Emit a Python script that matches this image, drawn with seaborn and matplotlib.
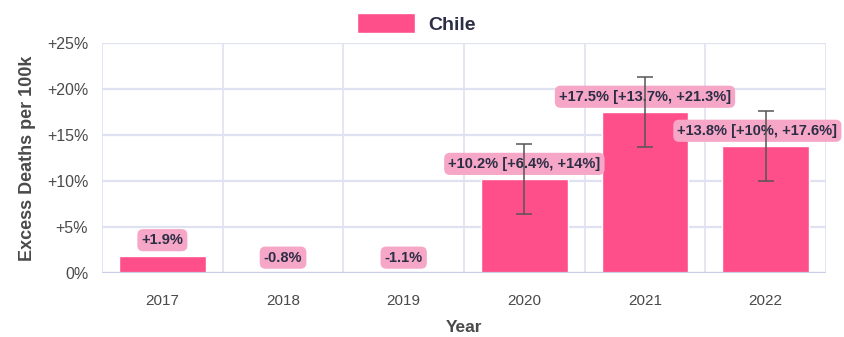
import numpy as np
import pandas as pd
import matplotlib.pyplot as plt
import seaborn as sns

# data
years = ["2017", "2018", "2019", "2020", "2021", "2022"]
excess = [1.9, -0.8, -1.1, 10.2, 17.5, 13.8]
ci_low = [np.nan, np.nan, np.nan, 6.4, 13.7, 10.0]
ci_high = [np.nan, np.nan, np.nan, 14.0, 21.3, 17.6]
country = "Chile"

bar_col = "#ff4f8b"
lab_bg = "#f6a6c6"
grid_col = "#dfe2f1"
txt_col = "#2b2e45"

df = pd.DataFrame({"Year": years, "Excess": excess, "Country": country})

sns.set_style("white")
plt.rcParams["font.family"] = ["Liberation Sans", "DejaVu Sans"]

fig = plt.figure(figsize=(8.44, 3.37), dpi=100)
ax = fig.add_axes([0.1209, 0.19, 0.8578, 0.682])

sns.barplot(data=df, x="Year", y="Excess", hue="Country", palette=[bar_col],
            saturation=1, width=0.72, dodge=False, ax=ax, zorder=3)

# error bars for years that have an interval
x = np.arange(len(years))
vals = np.array(excess)
lo = np.array(ci_low)
hi = np.array(ci_high)
mask = ~np.isnan(lo)
ax.errorbar(x[mask], vals[mask], yerr=[vals[mask] - lo[mask], hi[mask] - vals[mask]],
            fmt="none", ecolor="#555555", elinewidth=1.1, capsize=6, capthick=1.1, zorder=6)

# value labels (last one nudged left so it stays inside the figure)
for i, v in enumerate(excess):
    s = f"{v:+.1f}%"
    if mask[i]:
        s += f" [{lo[i]:+g}%, {hi[i]:+g}%]"
    dx = -6 if i == len(years) - 1 else 0
    ax.annotate(s, (i, max(v, 0)), xytext=(dx, 6), textcoords="offset points",
                ha="center", va="bottom", fontsize=10.5, fontweight="bold", color=txt_col,
                bbox=dict(boxstyle="round,pad=0.28,rounding_size=0.4", fc=lab_bg, ec="none"),
                zorder=5, annotation_clip=False, clip_on=False)

ax.set_ylim(0, 25)
ax.set_xlim(-0.5, len(years) - 0.5)
ax.set_yticks([0, 5, 10, 15, 20, 25])
ax.set_yticklabels(["0%", "+5%", "+10%", "+15%", "+20%", "+25%"])
ax.set_xticks(np.arange(-0.5, len(years)), minor=True)
ax.grid(axis="y", color=grid_col, lw=1.6, zorder=0)
ax.grid(axis="x", which="minor", color=grid_col, lw=1.2, zorder=0)
ax.tick_params(axis="x", which="major", length=0, pad=15, labelsize=11, labelcolor="#4a4a4a")
ax.tick_params(axis="x", which="minor", length=13, width=1.2, color=grid_col)
ax.tick_params(axis="y", length=7, width=1.6, color=grid_col, labelsize=11.5, labelcolor="#4a4a4a", pad=3)
for sp in ax.spines.values():
    sp.set_visible(False)
ax.axhline(0, color="#c9cde5", lw=1.6, zorder=4)

ax.set_xlabel("Year", fontsize=12.5, fontweight="bold", color="#4a4a4a", labelpad=9)
ax.set_ylabel("Excess Deaths per 100k", fontsize=13, fontweight="bold", color="#4a4a4a", labelpad=8)

leg = ax.legend(loc="lower center", bbox_to_anchor=(0.434, 0.965), frameon=False,
                handlelength=3.0, handleheight=1.25, handletextpad=0.7,
                prop={"weight": "bold", "size": 14})
for t in leg.get_texts():
    t.set_color(txt_col)

fig.savefig("out.png", dpi=100)
